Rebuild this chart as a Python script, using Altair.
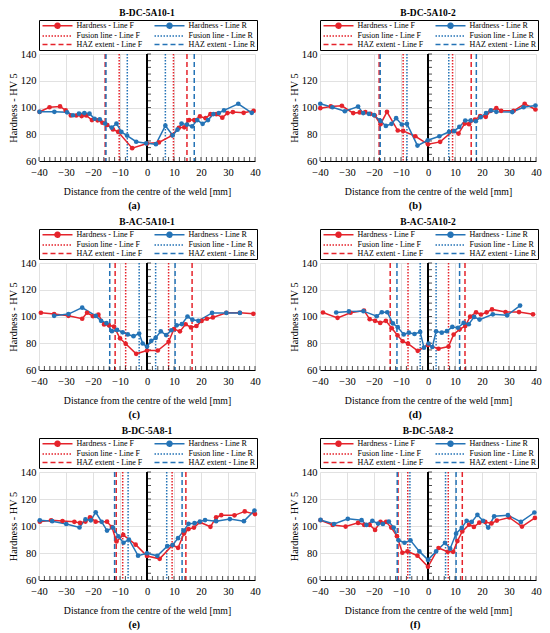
import altair as alt
import pandas as pd

RED = "#E5232B"
BLUE = "#2473B6"
GRID = "#D9D9D9"
FONT = "Liberation Serif"

SERIES = ["Hardness - Line F", "Hardness - Line R",
          "Fusion line - Line F", "Fusion line - Line R",
          "HAZ extent - Line F", "HAZ extent - Line R"]
TITLES = ["B-DC-5A10-1", "B-DC-5A10-2", "B-AC-5A10-1",
          "B-AC-5A10-2", "B-DC-5A8-1", "B-DC-5A8-2"]
CAPTIONS = ["(a)", "(b)", "(c)", "(d)", "(e)", "(f)"]

X_TICKS = [-40, -30, -20, -10, 0, 10, 20, 30, 40]
X_MINOR = list(range(-40, 41, 2))
Y_TICKS = [60, 80, 100, 120, 140]
Y_MINOR = list(range(60, 141, 5))

# ---------------- (a) B-DC-5A10-1 ----------------
A_F_X = [-39.8, -36.1, -32.2, -30.1, -28.2, -26.2, -24.2, -22.5, -20.4, -18.3, -16.5, -14.7, -12.6, -10.7,
         -5.5, 0.0, 4.4, 9.3, 11.8, 13.8, 15.6, 17.5, 19.6, 21.7, 23.5, 25.7, 27.9, 29.8, 31.8, 35.8, 39.5]
A_F_Y = [96.8, 100.2, 100.8, 97.8, 94.0, 94.0, 93.6, 94.0, 90.6, 90.4, 88.6, 86.9, 83.6, 81.8,
         69.6, 73.0, 73.9, 79.2, 84.8, 85.2, 90.6, 90.6, 93.3, 92.0, 95.0, 95.0, 92.4, 95.8, 96.6, 96.0, 97.5]
A_R_X = [-39.8, -34.3, -29.6, -27.4, -25.2, -23.2, -21.3, -19.4, -17.5, -15.5, -13.1, -11.3, -9.5, -7.4,
         -4.0, -0.3, 3.3, 6.8, 9.5, 11.3, 12.8, 14.8, 16.7, 18.6, 20.6, 22.6, 24.6, 26.6, 28.5, 33.8, 38.8]
A_R_Y = [96.8, 96.8, 96.4, 94.2, 95.4, 95.8, 95.4, 91.6, 91.2, 88.0, 85.0, 88.0, 81.8, 79.0,
         74.4, 73.2, 72.6, 86.4, 79.2, 83.4, 88.0, 87.2, 85.9, 90.6, 87.8, 90.6, 95.1, 95.9, 97.8, 102.8, 96.0]
A_FUS_F = [-10.3, 9.8]
A_FUS_R = [-7.3, 6.8]
A_HAZ_F = [-15.5, 14.8]
A_HAZ_R = [-15.2, 17.5]

# ---------------- (b) B-DC-5A10-2 ----------------
B_F_X = [-39.9, -36.0, -31.9, -27.7, -25.3, -23.2, -21.3, -19.7, -17.6, -15.2, -11.2, -9.2, -4.7, 0.0,
         4.5, 9.2, 11.3, 13.6, 15.2, 17.4, 19.3, 21.4, 23.2, 25.3, 27.1, 31.7, 35.8, 39.8]
B_F_Y = [99.5, 100.8, 101.3, 95.8, 96.3, 96.5, 95.3, 94.0, 87.5, 96.8, 82.8, 82.5, 78.5, 72.5,
         74.3, 82.5, 80.5, 88.0, 87.5, 91.0, 93.5, 93.0, 97.5, 99.5, 97.5, 97.5, 102.8, 98.5]
B_R_X = [-39.9, -35.4, -30.8, -25.9, -24.0, -21.9, -20.0, -17.6, -15.6, -13.5, -11.8, -9.7, -7.8, -3.9,
         -0.1, 4.2, 7.8, 9.7, 11.6, 13.8, 15.8, 17.7, 19.5, 21.5, 23.3, 25.3, 31.2, 35.4, 39.8]
B_R_Y = [102.8, 100.2, 97.2, 100.7, 95.8, 95.3, 94.3, 90.0, 86.2, 87.8, 92.0, 87.3, 87.8, 71.5,
         75.5, 78.5, 81.8, 82.3, 85.5, 90.3, 90.3, 89.7, 92.8, 95.8, 97.8, 96.8, 96.6, 100.2, 101.5]
B_FUS_F = [-9.2, 9.1]
B_FUS_R = [-7.8, 7.7]
B_HAZ_F = [-18.1, 16.0]
B_HAZ_R = [-17.7, 17.9]

# ---------------- (c) B-AC-5A10-1 ----------------
C_F_X = [-39.3, -34.4, -29.1, -24.0, -22.2, -20.0, -18.0, -15.9, -14.1, -12.2, -10.0, -7.9, -4.0, 0.0,
         4.0, 8.0, 10.0, 12.2, 14.3, 16.3, 18.3, 20.2, 22.2, 24.4, 29.4, 34.4, 39.4]
C_F_Y = [102.8, 101.8, 100.5, 98.3, 102.8, 100.2, 101.4, 94.1, 93.4, 92.4, 83.7, 79.6, 72.1, 74.6,
         74.6, 81.1, 90.6, 88.9, 94.2, 91.8, 92.9, 96.7, 98.3, 99.3, 102.8, 102.8, 102.0]
C_R_X = [-34.4, -29.1, -24.0, -19.0, -17.0, -15.0, -13.0, -11.1, -9.0, -7.1, -5.0, -2.9, -1.6, 0.0,
         1.6, 3.2, 5.1, 7.1, 9.0, 11.0, 12.9, 15.0, 16.8, 19.0, 24.1, 29.4, 34.4]
C_R_Y = [100.5, 101.8, 106.6, 100.5, 96.8, 95.0, 89.0, 90.0, 88.2, 86.6, 85.3, 87.2, 79.8, 77.5,
         81.8, 84.0, 88.9, 86.1, 89.7, 93.4, 94.3, 100.0, 97.6, 96.8, 102.7, 102.7, 102.7]
C_FUS_F = [-7.9, 8.0]
C_FUS_R = [-2.9, 3.2]
C_HAZ_F = [-11.8, 16.7]
C_HAZ_R = [-13.8, 10.4]

# ---------------- (d) B-AC-5A10-2 ----------------
D_F_X = [-38.9, -33.5, -28.7, -23.7, -21.6, -19.6, -17.7, -15.6, -13.4, -11.3, -9.4, -7.4, -3.8, 0.0,
         3.9, 7.6, 9.5, 11.7, 13.8, 15.6, 17.8, 19.6, 21.7, 23.7, 28.7, 33.7, 38.9]
D_F_Y = [103.0, 99.0, 102.8, 104.4, 98.0, 96.8, 95.2, 96.8, 91.2, 86.0, 81.5, 79.7, 74.3, 78.7,
         75.9, 77.5, 86.5, 90.4, 92.9, 99.9, 103.1, 101.5, 103.1, 105.3, 103.3, 103.3, 101.6]
D_R_X = [-34.0, -29.3, -23.9, -19.0, -17.1, -15.1, -13.0, -11.2, -9.0, -7.1, -5.0, -2.9, -1.5, 0.2,
         1.6, 3.0, 5.1, 7.0, 9.0, 11.1, 13.2, 15.1, 17.1, 19.1, 24.0, 29.3, 34.1]
D_R_Y = [103.0, 103.8, 104.0, 100.2, 103.2, 103.2, 94.8, 92.0, 86.6, 87.9, 86.9, 88.5, 76.7, 79.8,
         77.2, 88.9, 87.9, 89.0, 92.2, 91.6, 95.2, 94.2, 99.7, 97.7, 101.6, 100.9, 108.2]
D_FUS_F = [-7.4, 7.6]
D_FUS_R = [-2.9, 3.0]
D_HAZ_F = [-14.0, 13.7]
D_HAZ_R = [-11.5, 11.7]

# ---------------- (e) B-DC-5A8-1 ----------------
E_F_X = [-39.7, -35.5, -31.3, -26.9, -24.8, -22.8, -21.1, -19.0, -14.8, -13.0, -11.3, -8.8, -4.2, 0.0,
         4.7, 9.5, 11.5, 13.7, 15.4, 17.4, 19.6, 23.5, 25.6, 27.5, 32.4, 36.2, 40.0]
E_F_Y = [103.2, 104.2, 103.7, 103.1, 102.3, 103.3, 106.5, 103.2, 103.2, 99.2, 88.5, 93.4, 86.2, 77.8,
         75.7, 85.9, 83.8, 94.4, 97.7, 98.8, 102.8, 99.4, 106.4, 108.0, 107.9, 110.8, 108.8]
E_R_X = [-39.7, -35.1, -29.9, -25.0, -22.8, -20.8, -19.0, -16.8, -14.8, -12.6, -10.6, -8.7, -6.7, -3.3,
         0.0, 3.8, 7.5, 9.5, 11.5, 13.6, 15.4, 17.6, 19.6, 21.5, 25.6, 30.7, 35.9, 39.8]
E_R_Y = [104.2, 103.6, 101.5, 98.9, 104.9, 104.2, 110.2, 103.1, 96.6, 98.9, 92.3, 87.6, 90.0, 78.0,
         79.8, 77.9, 85.1, 85.9, 91.0, 96.6, 101.6, 102.1, 103.3, 104.4, 103.6, 105.1, 103.6, 111.5]
E_FUS_F = [-9.0, 9.3]
E_FUS_R = [-7.0, 7.3]
E_HAZ_F = [-11.4, 14.4]
E_HAZ_R = [-12.0, 13.0]

# ---------------- (f) B-DC-5A8-2 ----------------
F_F_X = [-39.8, -35.3, -30.5, -25.9, -23.6, -21.6, -19.6, -17.6, -15.5, -13.6, -11.5, -9.5, -7.6, -3.9,
         0.0, 3.9, 7.3, 9.3, 10.9, 12.7, 15.2, 17.0, 19.0, 21.2, 23.5, 25.5, 30.1, 34.8, 39.6]
F_F_Y = [104.3, 100.8, 99.6, 102.3, 100.8, 100.8, 97.1, 103.0, 103.0, 98.8, 92.5, 80.2, 81.2, 78.0,
         69.8, 83.7, 80.9, 80.9, 88.8, 96.0, 101.0, 99.3, 102.5, 103.0, 101.9, 104.0, 106.3, 99.6, 106.0]
F_R_X = [-39.8, -34.8, -29.7, -24.6, -22.8, -20.6, -18.5, -16.7, -14.5, -12.7, -10.9, -8.7, -6.5, -3.2,
         0.0, 3.0, 6.3, 8.2, 10.4, 12.5, 14.3, 16.2, 18.3, 20.4, 22.3, 24.5, 29.6, 34.4, 39.4]
F_R_Y = [104.5, 101.5, 105.3, 104.3, 100.8, 103.8, 101.8, 101.5, 103.3, 98.8, 89.4, 87.6, 89.4, 81.2,
         74.9, 81.2, 87.6, 83.2, 94.3, 98.6, 103.8, 103.0, 108.3, 103.8, 98.8, 107.2, 108.0, 103.0, 110.0]
F_FUS_F = [-7.5, 7.5]
F_FUS_R = [-6.7, 6.5]
F_HAZ_F = [-11.1, 12.7]
F_HAZ_R = [-11.4, 10.4]

PANELS = [
    (A_F_X, A_F_Y, A_R_X, A_R_Y, A_FUS_F, A_FUS_R, A_HAZ_F, A_HAZ_R),
    (B_F_X, B_F_Y, B_R_X, B_R_Y, B_FUS_F, B_FUS_R, B_HAZ_F, B_HAZ_R),
    (C_F_X, C_F_Y, C_R_X, C_R_Y, C_FUS_F, C_FUS_R, C_HAZ_F, C_HAZ_R),
    (D_F_X, D_F_Y, D_R_X, D_R_Y, D_FUS_F, D_FUS_R, D_HAZ_F, D_HAZ_R),
    (E_F_X, E_F_Y, E_R_X, E_R_Y, E_FUS_F, E_FUS_R, E_HAZ_F, E_HAZ_R),
    (F_F_X, F_F_Y, F_R_X, F_R_Y, F_FUS_F, F_FUS_R, F_HAZ_F, F_HAZ_R),
]
HEIGHTS = [107, 107, 107, 107, 108, 108]
PLOT_W = 216

# legend glyphs (unit = 2 px with symbolSize 16): 30 px line with a dot, and a plain line
PATH_PT = "M-7.5,0H7.5M1.25,0A1.25,1.25,0,1,1,-1.25,0A1.25,1.25,0,1,1,1.25,0Z"
PATH_LN = "M-7.5,0H7.5"

xscale = alt.Scale(domain=[-40, 40], nice=False, zero=False)
yscale = alt.Scale(domain=[60, 140], nice=False, zero=False)
stroke_scale = alt.Scale(domain=SERIES, range=[RED, BLUE, RED, BLUE, RED, BLUE])
fill_scale = alt.Scale(domain=SERIES, range=[RED, BLUE, RED, BLUE, RED, BLUE])
dash_scale = alt.Scale(domain=SERIES, range=[[1, 0], [1, 0], [1.5, 1.5], [1.5, 1.5], [5, 3], [5, 3]])
shape_scale = alt.Scale(domain=SERIES, range=[PATH_PT, PATH_PT, PATH_LN, PATH_LN, PATH_LN, PATH_LN])

LEG = alt.Legend(title=None, orient="none", legendX=0, legendY=-34, columns=2,
                 direction="horizontal",
                 columnPadding=9, rowPadding=0.5, padding=1.5, strokeColor="black",
                 fillColor="white", labelFont=FONT, labelFontSize=8, labelColor="black",
                 labelAlign="left", labelLimit=300, labelOffset=15, symbolOffset=13,
                 symbolSize=16, symbolStrokeWidth=1.5, cornerRadius=0)

x_axis = alt.Axis(values=X_TICKS, title="Distance from the centre of the weld [mm]",
                  grid=True, gridColor=GRID, gridWidth=0.8, domain=True, domainColor="black",
                  domainWidth=1, ticks=False, labelPadding=6.5, labelFontSize=10.5,
                  labelFlush=False, labelOverlap=False, labelColor="black",
                  titleFontSize=9.8, titleFontWeight="normal", titlePadding=8, titleColor="black")
y_axis = alt.Axis(values=Y_TICKS, title="Hardness - HV 5", grid=True, gridColor=GRID,
                  gridWidth=0.8, domain=False, ticks=False, labelPadding=3, labelFontSize=10.5,
                  labelColor="black", titleFontSize=10.3, titleFontWeight="normal",
                  titlePadding=2, titleColor="black")

IND = dict(stroke="independent", fill="independent", shape="independent",
           strokeDash="independent")


def X(field):
    return alt.X(field, scale=xscale, axis=x_axis)


def Y(field):
    return alt.Y(field, scale=yscale, axis=y_axis)


def make_panel(i):
    fx, fy, rx, ry, fusf, fusr, hazf, hazr = PANELS[i]
    pts = pd.concat([
        pd.DataFrame({"x": fx, "y": fy, "series": SERIES[0]}),
        pd.DataFrame({"x": rx, "y": ry, "series": SERIES[1]}),
    ], ignore_index=True)
    vls = pd.concat([
        pd.DataFrame({"x": fusf, "series": SERIES[2]}),
        pd.DataFrame({"x": fusr, "series": SERIES[3]}),
        pd.DataFrame({"x": hazf, "series": SERIES[4]}),
        pd.DataFrame({"x": hazr, "series": SERIES[5]}),
    ], ignore_index=True)
    xm = pd.DataFrame({"x": X_MINOR})
    ym = pd.DataFrame({"y": Y_MINOR})

    base = alt.Chart(pts)
    legend_layer = base.transform_filter("false").mark_point(filled=True, opacity=1).encode(
        x=X("x:Q"), y=Y("y:Q"),
        shape=alt.Shape("series:N", scale=shape_scale, legend=LEG),
        fill=alt.Fill("series:N", scale=fill_scale, legend=LEG),
        stroke=alt.Stroke("series:N", scale=stroke_scale, legend=LEG),
        strokeDash=alt.StrokeDash("series:N", scale=dash_scale, legend=LEG),
    )
    vlines = alt.Chart(vls).mark_rule(strokeWidth=1.5).encode(
        x=X("x:Q"),
        stroke=alt.Stroke("series:N", scale=stroke_scale, legend=LEG),
        strokeDash=alt.StrokeDash("series:N", scale=dash_scale, legend=LEG),
    )
    zero = alt.Chart(pts).mark_rule(color="black", strokeWidth=1).encode(
        x=alt.XDatum(0, scale=xscale, axis=x_axis),
    )
    yt = alt.Chart(ym).mark_tick(orient="horizontal", size=4, thickness=1, color="black",
                                 xOffset=2).encode(
        x=alt.XDatum(0, scale=xscale, axis=x_axis), y=Y("y:Q"),
    )
    xt = alt.Chart(xm).mark_tick(orient="vertical", size=4, thickness=1, color="black",
                                 yOffset=-2).encode(
        x=X("x:Q"), y=alt.YDatum(60, scale=yscale, axis=y_axis),
    )
    lines = base.mark_line(strokeWidth=1.5).encode(
        x=X("x:Q"), y=Y("y:Q"),
        stroke=alt.Stroke("series:N", scale=stroke_scale, legend=LEG),
    )
    dots = base.mark_circle(size=22, opacity=1).encode(
        x=X("x:Q"), y=Y("y:Q"),
        fill=alt.Fill("series:N", scale=fill_scale, legend=LEG),
    )
    layer = alt.layer(legend_layer, vlines, zero, yt, xt, lines, dots).properties(
        width=PLOT_W, height=HEIGHTS[i],
        title=alt.TitleParams(TITLES[i], fontSize=9.5, fontWeight="bold", font=FONT,
                              offset=2, frame="group", anchor="middle", color="black"),
    )
    return alt.vconcat(layer, title=alt.TitleParams(CAPTIONS[i], orient="bottom", fontSize=10.5,
                                                    fontWeight="bold", font=FONT, offset=5,
                                                    anchor="middle", color="black")
                       ).resolve_scale(**IND).resolve_legend(**IND)


rows = [alt.hconcat(make_panel(2 * r), make_panel(2 * r + 1), spacing=28)
        .resolve_scale(**IND).resolve_legend(**IND) for r in range(3)]
chart = alt.vconcat(*rows, spacing=5).resolve_scale(**IND).resolve_legend(**IND).properties(
    padding=0).configure(font=FONT).configure_view(strokeWidth=0)

chart.save("out.html", embed_options={"renderer": "svg", "actions": False})
